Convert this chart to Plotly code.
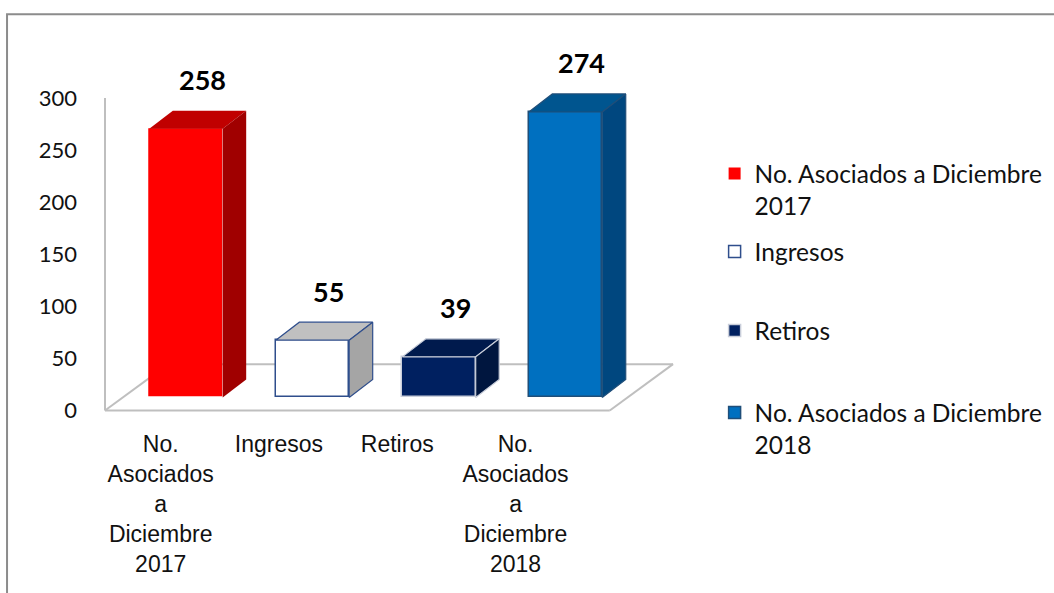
import numpy as np
import plotly.graph_objects as go

# Daten
categories = [
    "No. Asociados a Diciembre 2017",
    "Ingresos",
    "Retiros",
    "No. Asociados a Diciembre 2018",
]
values = [258, 55, 39, 274]
y_ticks = [0, 50, 100, 150, 200, 250, 300]

# Farben: Front, Deckel, Seite, Kante
front_colors = ["#FF0000", "#FFFFFF", "#002060", "#0070C0"]
top_colors = ["#C00000", "#C0C0C0", "#001A4D", "#00558F"]
side_colors = ["#A00000", "#A5A5A5", "#00163F", "#00477F"]
edge_colors = ["rgba(0,0,0,0)", "#2F4E8C", "#C9CEDA", "#1F4E79"]

# Pseudo-3D Geometrie (Achseneinheiten)
BAR_W = 0.58
DX = 0.186
DY = 17.3
B0 = 12.5
FLOOR_X = (-0.64, 3.35)
FLOOR_DX = 0.5
FLOOR_DY = 44.5
GRID = "#BFBFBF"

xs = np.arange(len(categories))


def legend_name(cat):
    # Jahr in eine zweite Zeile
    parts = cat.rsplit(" ", 1)
    if len(parts) == 2 and parts[1].isdigit():
        return parts[0] + "<br>" + parts[1]
    return cat


fig = go.Figure()

legend_ids = ["legend", "legend2", "legend3", "legend4"]

for i, (cat, v) in enumerate(zip(categories, values)):
    x0 = xs[i] - BAR_W / 2
    x1 = xs[i] + BAR_W / 2
    top = B0 + v
    edge = edge_colors[i]
    # Vorderseite
    fig.add_trace(go.Bar(
        x=[xs[i]], y=[v], base=[B0], width=BAR_W,
        name=legend_name(cat),
        marker=dict(color=front_colors[i], line=dict(color=edge, width=1.5)),
        legend=legend_ids[i],
        hoverinfo="skip",
    ))
    # Deckel
    fig.add_trace(go.Scatter(
        x=[x0, x1, x1 + DX, x0 + DX, x0],
        y=[top, top, top + DY, top + DY, top],
        fill="toself", fillcolor=top_colors[i], mode="lines",
        line=dict(color=edge, width=1.2), showlegend=False, hoverinfo="skip",
    ))
    # Seite
    fig.add_trace(go.Scatter(
        x=[x1, x1 + DX, x1 + DX, x1, x1],
        y=[B0, B0 + DY, top + DY, top, B0],
        fill="toself", fillcolor=side_colors[i], mode="lines",
        line=dict(color=edge, width=1.2), showlegend=False, hoverinfo="skip",
    ))
    # Wertelabel
    fig.add_annotation(
        x=xs[i] + 0.13, y=top + DY, text=f"<b>{v}</b>", showarrow=False,
        yanchor="middle", yshift=31,
        font=dict(family="Lato", size=27, color="black"),
    )

# Boden und Wand (unter den Balken)
fl, fr = FLOOR_X
floor_pts = [
    (fl, 0, fr, 0),
    (fr, 0, fr + FLOOR_DX, FLOOR_DY),
    (fl + FLOOR_DX, FLOOR_DY, fr + FLOOR_DX, FLOOR_DY),
    (fl, 0, fl + FLOOR_DX, FLOOR_DY),
    (fl, 0, fl, y_ticks[-1]),
]
for (ax0, ay0, ax1, ay1) in floor_pts:
    fig.add_shape(type="line", x0=ax0, y0=ay0, x1=ax1, y1=ay1,
                  line=dict(color=GRID, width=2), layer="below")

# Rahmen (rechts und unten ausserhalb des Bildes)
fig.add_shape(type="rect", xref="paper", yref="paper",
              x0=-0.127, y0=-0.6, x1=1.64, y1=1.068,
              line=dict(color="#8C8C8C", width=2), layer="below")

legend_tops = [151, 229, 308, 390]
legend_common = dict(
    xref="container", yref="container", xanchor="left", yanchor="top",
    font=dict(family="Lato", size=24.5, color="#111111"),
    bgcolor="rgba(0,0,0,0)", valign="top", itemclick=False,
)
layout_legends = {}
for lid, t in zip(legend_ids, legend_tops):
    layout_legends[lid] = dict(x=0.678, y=1 - t / 593, **legend_common)

fig.update_layout(
    width=1054, height=593,
    margin=dict(l=84, r=364, t=40, b=173),
    plot_bgcolor="white", paper_bgcolor="white",
    showlegend=True,
    bargap=0,
    xaxis=dict(
        range=[-0.806, 3.984],
        tickvals=list(xs * 0.935 - 0.2),
        ticktext=[c.replace(" ", "<br>") for c in categories],
        showgrid=False, zeroline=False, showline=False, ticks="",
        ticklabelstandoff=8,
        tickfont=dict(family="Liberation Sans", size=23, color="#111111"),
    ),
    yaxis=dict(
        range=[-9.1, 355.6],
        tickvals=y_ticks,
        showgrid=False, zeroline=False, showline=False, ticks="",
        ticklabelstandoff=6,
        tickfont=dict(family="Lato", size=22, color="#111111"),
    ),
    **layout_legends,
)

fig.write_html(
    "out.html",
    config={"displayModeBar": False},
    post_script="document.body.style.margin='0';",
)
